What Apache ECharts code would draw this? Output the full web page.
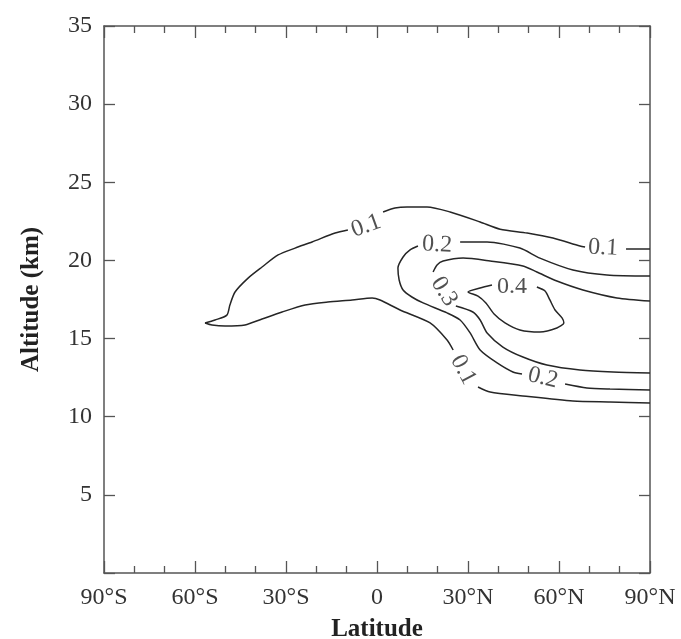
<!DOCTYPE html>
<html>
<head>
<meta charset="utf-8">
<script src="https://cdn.jsdelivr.net/npm/echarts@6/dist/echarts.min.js"></script>
<style>
  html, body { margin: 0; padding: 0; background: #fff; }
  #chart { width: 681px; height: 639px; }
</style>
</head>
<body>
<div id="chart"></div>
<script>
// Axis ticks
const latTicks = [-90, -60, -30, 0, 30, 60, 90];
const altTicks = [0, 5, 10, 15, 20, 25, 30, 35];

// Contour lines, [latitude (deg), altitude (km)]
const c01Upper = [
  [-56.7, 16.0], [-53.4, 16.19], [-49.5, 16.5], [-48.5, 17.15], [-46.8, 17.98],
  [-42.5, 18.87], [-37.9, 19.58], [-32.6, 20.35], [-27.0, 20.79], [-21.4, 21.18],
  [-13.8, 21.75], [-9.6, 21.95]
];
const c01Top = [
  [2.0, 23.1], [5.9, 23.35], [9.9, 23.42], [16.5, 23.42], [24.1, 23.1],
  [34.0, 22.46], [40.6, 22.0], [49.5, 21.75], [58.0, 21.43], [66.9, 20.92],
  [68.6, 20.86]
];
const c01TopEnd = [[82.1, 20.73], [90, 20.73]];
const c01Lower = [
  [-56.7, 16.0], [-54.4, 15.87], [-50.1, 15.8], [-43.5, 15.87], [-37.9, 16.25],
  [-31.3, 16.7], [-23.7, 17.15], [-16.2, 17.34], [-8.2, 17.47], [-1.6, 17.6],
  [1.0, 17.47], [7.6, 16.83], [17.5, 16.0], [23.1, 14.91], [25.1, 14.27]
];
const c01LowerEnd = [
  [33.3, 11.9], [37.3, 11.58], [48.1, 11.33], [64.6, 11.0], [76.8, 10.94], [90, 10.88]
];
const c02Upper = [
  [27.4, 21.18], [36.3, 21.18], [47.1, 20.79], [53.7, 20.15], [64.6, 19.39],
  [75.8, 19.07], [90, 19.0]
];
const c02Lower = [
  [13.5, 20.92], [10.9, 20.67], [8.6, 20.22], [6.9, 19.51], [7.3, 18.75],
  [8.6, 18.11], [11.5, 17.66], [15.2, 17.28], [23.1, 16.64], [27.4, 16.19],
  [30.7, 15.36], [34.0, 14.27], [39.6, 13.44], [44.8, 12.86], [47.8, 12.73]
];
const c02LowerEnd = [[62.0, 12.09], [69.2, 11.84], [76.8, 11.77], [90, 11.71]];
const c03Upper = [
  [18.5, 19.26], [19.8, 19.71], [21.8, 19.96], [28.4, 20.15], [37.3, 19.96],
  [48.1, 19.64], [52.7, 19.26], [59.3, 18.68], [67.9, 18.11], [79.1, 17.6], [90, 17.4]
];
const c03Lower = [
  [26.0, 17.08], [31.6, 16.7], [34.0, 16.19], [36.3, 15.36], [41.5, 14.46],
  [48.1, 13.82], [56.0, 13.31], [66.9, 12.99], [77.8, 12.86], [90, 12.8]
];
const c04Loop = [
  [52.7, 18.3], [55.4, 18.04], [57.0, 17.47], [58.7, 16.83], [61.0, 16.32],
  [61.6, 16.0], [59.3, 15.68], [53.7, 15.42], [47.1, 15.55], [42.2, 16.0],
  [38.6, 16.57], [35.9, 17.28], [33.3, 17.72], [30.0, 17.98], [34.0, 18.24], [37.9, 18.43]
];

// Contour level labels: text and [latitude, altitude]
const levelLabels = ['0.1', '0.1', '0.2', '0.3', '0.4', '0.1', '0.2'];
const levelLabelPos = [
  [-3.6, 22.2], [74.5, 20.8], [19.8, 21.0], [22.1, 18.0], [44.5, 18.3], [28.4, 13.0], [54.7, 12.48]
];
const levelLabelAngle = [20, -3, -3, -58, 0, -62, -14];

const serif = '"Liberation Serif", "DejaVu Serif", serif';
const ink = '#262626';
const frame = '#555';

const contourLines = [c01Upper, c01Top, c01TopEnd, c01Lower, c01LowerEnd,
  c02Upper, c02Lower, c02LowerEnd, c03Upper, c03Lower, c04Loop];

const lineSeries = contourLines.map(pts => ({
  type: 'line',
  data: pts,
  showSymbol: false,
  smooth: 0.25,
  silent: true,
  lineStyle: { color: ink, width: 1.5 },
  z: 3
}));

const labelSeries = {
  type: 'scatter',
  symbolSize: 0,
  silent: true,
  data: levelLabels.map((t, i) => ({
    name: t,
    value: levelLabelPos[i],
    label: { rotate: levelLabelAngle[i] }
  })),
  label: {
    show: true,
    position: 'inside',
    formatter: p => p.name,
    fontFamily: serif,
    fontSize: 24,
    color: ink
  },
  z: 4
};

const latFmt = v => v === 0 ? '0' : (v < 0 ? (-v) + '°S' : v + '°N');

const axisBase = {
  type: 'value',
  axisLine: { show: true, onZero: false, lineStyle: { color: frame, width: 1.5 } },
  splitLine: { show: false }
};

const chart = echarts.init(document.getElementById('chart'), null, { renderer: 'canvas' });
chart.setOption({
  backgroundColor: '#fff',
  animation: false,
  grid: { left: 104, right: 31, top: 26, bottom: 66, containLabel: false, outerBoundsMode: 'none' },
  xAxis: [
    Object.assign({}, axisBase, {
      position: 'bottom',
      min: latTicks[0], max: latTicks[latTicks.length - 1], interval: 30,
      name: 'Latitude', nameLocation: 'middle', nameGap: 44,
      nameTextStyle: { fontFamily: serif, fontSize: 25, fontWeight: 'bold', color: '#222' },
      axisTick: { show: true, inside: true, length: 12, lineStyle: { color: frame, width: 1.3 } },
      minorTick: { show: true, splitNumber: 3, length: 7, lineStyle: { color: frame, width: 1.3 } },
      axisLabel: { formatter: latFmt, fontFamily: serif, fontSize: 24, color: '#333', margin: 13 }
    }),
    Object.assign({}, axisBase, {
      position: 'top',
      min: latTicks[0], max: latTicks[latTicks.length - 1], interval: 30,
      axisTick: { show: true, inside: true, length: 12, lineStyle: { color: frame, width: 1.3 } },
      minorTick: { show: true, splitNumber: 3, length: 7, lineStyle: { color: frame, width: 1.3 } },
      axisLabel: { show: false }
    })
  ],
  yAxis: [
    Object.assign({}, axisBase, {
      position: 'left',
      min: altTicks[0], max: altTicks[altTicks.length - 1], interval: 5,
      name: 'Altitude (km)', nameLocation: 'middle', nameGap: 60, nameRotate: 90,
      nameTextStyle: { fontFamily: serif, fontSize: 25, fontWeight: 'bold', color: '#222' },
      axisTick: { show: true, inside: true, length: 11, lineStyle: { color: frame, width: 1.3 } },
      axisLabel: { formatter: v => v === 0 ? '' : String(v), fontFamily: serif, fontSize: 24, color: '#333', margin: 12 }
    }),
    Object.assign({}, axisBase, {
      position: 'right',
      min: altTicks[0], max: altTicks[altTicks.length - 1], interval: 5,
      axisTick: { show: true, inside: true, length: 11, lineStyle: { color: frame, width: 1.3 } },
      axisLabel: { show: false }
    })
  ],
  series: lineSeries.concat([labelSeries])
});
</script>
</body>
</html>
